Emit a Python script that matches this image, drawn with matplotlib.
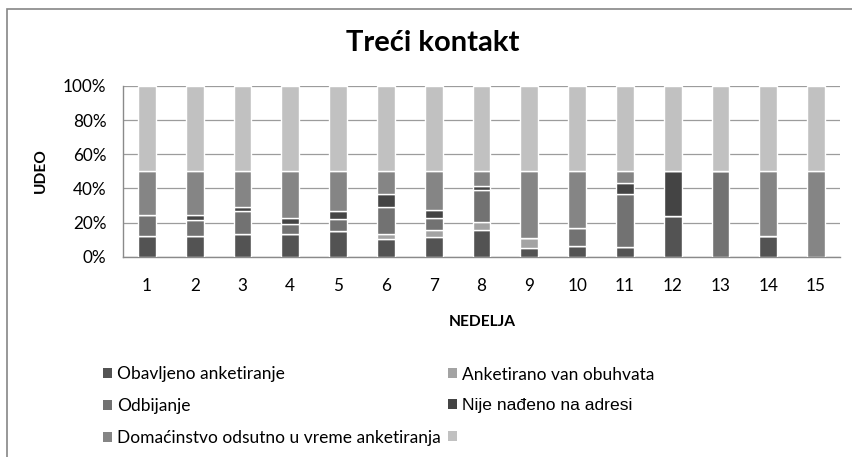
import matplotlib
matplotlib.use("Agg")
import matplotlib.pyplot as plt
from matplotlib.patches import Rectangle, Patch
import numpy as np

weeks = [str(i) for i in range(1, 16)]
series_names = ["Obavljeno anketiranje", "Anketirano van obuhvata", "Odbijanje",
                "Nije nađeno na adresi", "Domaćinstvo odsutno u vreme anketiranja", ""]
obavljeno = [12.3, 12.3, 13.1, 13.1, 15.2, 10.5, 11.7, 15.4, 4.9, 6.4, 5.5, 24.0, 0, 12.3, 0]
van_obuhvata = [0, 0, 0, 0, 0, 2.8, 3.9, 5.1, 6.2, 0, 0, 0, 0, 0, 0]
odbijanje = [12.3, 9.2, 13.9, 6.1, 6.9, 15.6, 6.9, 18.5, 0, 10.6, 31.4, 0, 50, 0, 0]
nije_nadjeno = [0, 2.9, 2.3, 3.7, 4.9, 7.6, 4.8, 2.4, 0, 0, 6.1, 26.0, 0, 0, 0]
odsutno = [25.4, 25.6, 20.7, 27.1, 23.0, 13.5, 22.7, 8.6, 38.9, 33.0, 7.0, 0, 0, 37.7, 50]
prazno = [50] * 15
yticks = [0, 20, 40, 60, 80, 100]
ytick_labels = ["0%", "20%", "40%", "60%", "80%", "100%"]

colors = ["#535353", "#a3a3a3", "#727272", "#444444", "#858585", "#c1c1c1"]
data = [obavljeno, van_obuhvata, odbijanje, nije_nadjeno, odsutno, prazno]

plt.rcParams['font.family'] = ['Lato', 'DejaVu Sans']

fig = plt.figure(figsize=(8.52, 4.57), dpi=100)
ax = fig.add_axes([123 / 852, 1 - 256.7 / 457, 717 / 852, 170.7 / 457])

x = np.arange(len(weeks))
bottom = np.zeros(len(weeks))
handles = []
for name, vals, c in zip(series_names, data, colors):
    v = np.array(vals, dtype=float)
    ax.bar(x, v, bottom=bottom, width=0.37, color=c, edgecolor="white",
           linewidth=1.0, zorder=3)
    bottom += v
    handles.append(Patch(facecolor=c, edgecolor="none", label=name))

ax.set_xlim(-0.5, len(weeks) - 0.5)
ax.set_ylim(0, 100)
ax.set_yticks(yticks)
ax.set_yticklabels(ytick_labels, fontsize=12.3)
ax.set_xticks(x)
ax.set_xticklabels(weeks, fontsize=12.3)
ax.tick_params(axis="y", length=0, pad=12)
ax.tick_params(axis="x", length=0, pad=15.5)
ax.yaxis.grid(True, color="#9c9c9c", linewidth=0.9, zorder=0)
ax.set_axisbelow(True)
for s in ["top", "right"]:
    ax.spines[s].set_visible(False)
for s in ["left", "bottom"]:
    ax.spines[s].set_color("#8a8a8a")
    ax.spines[s].set_linewidth(1.0)

fig.text(433 / 852, 1 - 43 / 457, "Treći kontakt", ha="center", va="center",
         fontsize=21, fontweight="bold")
fig.text(41 / 852, 1 - 171 / 457, "UDEO", ha="center", va="center",
         rotation=90, fontsize=11.2, fontweight="bold")
fig.text(482 / 852, 1 - 322 / 457, "NEDELJA", ha="center", va="center",
         fontsize=11.2, fontweight="bold")

order = [0, 2, 4, 1, 3, 5]
leg = fig.legend([handles[i] for i in order], [series_names[i] for i in order],
                 ncol=2, loc="upper left", bbox_to_anchor=(103 / 852, 1 - 366.5 / 457),
                 frameon=False, fontsize=12.5, handlelength=0.5, handleheight=0.5,
                 handletextpad=0.3, labelspacing=0.9, columnspacing=0.45,
                 borderpad=0, borderaxespad=0)
for t in leg.get_texts():
    if t.get_text() == "Nije nađeno na adresi":
        t.set_fontfamily(["Liberation Sans", "DejaVu Sans"])
        t.set_fontsize(12.6)

fig.patches.append(Rectangle((7 / 852, -0.05), 1.2, 1 - 9 / 457 + 0.05,
                             transform=fig.transFigure, fill=False,
                             edgecolor="#868686", linewidth=1.2))

fig.savefig("out.png", dpi=100)
